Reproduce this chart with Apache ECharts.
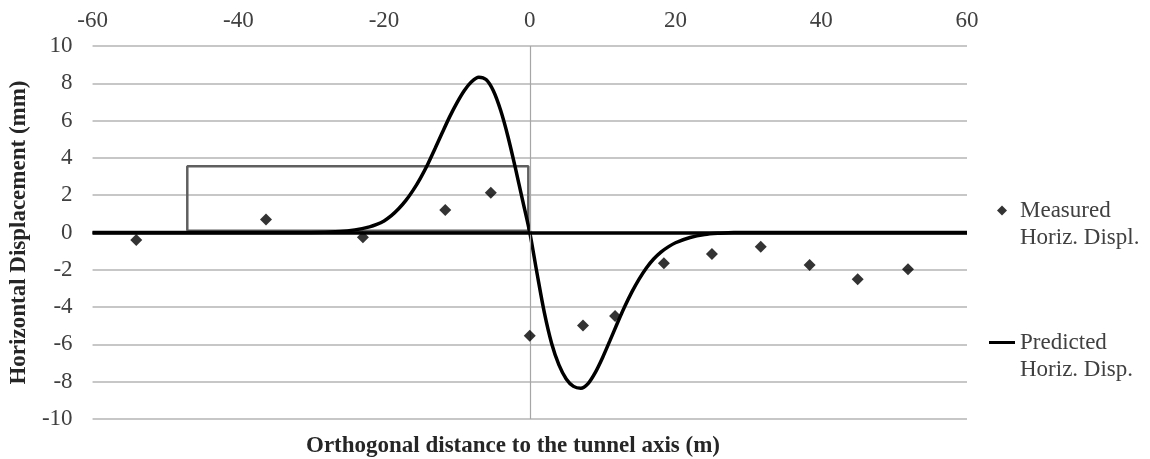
<!DOCTYPE html>
<html>
<head>
<meta charset="utf-8">
<style>
  html, body { margin: 0; padding: 0; background: #fff; }
  #chart { width: 1150px; height: 459px; }
</style>
<script src="https://cdn.jsdelivr.net/npm/echarts@6/dist/echarts.min.js"></script>
</head>
<body>
<div id="chart"></div>
<script>
// measured points
const measuredX = [-54, -36.2, -22.9, -11.6, -5.35, 0, 7.3, 11.7, 18.4, 25.0, 31.7, 38.4, 45.0, 51.9];
const measuredY = [-0.4, 0.7, -0.26, 1.2, 2.13, -5.53, -4.98, -4.48, -1.65, -1.15, -0.76, -1.74, -2.51, -1.97];

// predicted curve, sampled by eye
const predictedX = [-60, -40, -30, -26, -24, -22, -21, -20, -19, -18, -17, -16, -15, -14, -13, -12, -11, -10,
  -9, -8, -7, -6, -5, -4, -3, -2, -1, 0,
  1, 2, 3, 4, 5, 6, 7, 8, 9, 10, 11, 12, 13, 14, 15, 16, 17, 18, 19, 20, 22, 24, 26, 28, 40, 60];
const predictedY = [0, 0, 0, 0.05, 0.14, 0.3, 0.43, 0.62, 0.9, 1.27, 1.72, 2.27, 2.92, 3.66, 4.5, 5.36, 6.2, 6.95,
  7.6, 8.08, 8.33, 8.2, 7.6, 6.55, 5.15, 3.5, 1.75, 0,
  -2.2, -4.3, -5.95, -7.1, -7.85, -8.25, -8.35, -8.1, -7.5, -6.7, -5.8, -4.88, -4.0, -3.2, -2.5, -1.9, -1.42, -1.05, -0.77, -0.55, -0.27, -0.11, -0.04, 0, 0, 0];

// grey box drawn on the chart
const boxX = [-47, -47, -0.2, -0.2, -47];
const boxY = [0.1, 3.55, 3.55, 0.1, 0.1];

const seriesNames = ['Measured\nHoriz. Displ.', 'Predicted\nHoriz. Disp.'];

const FONT = '"Liberation Serif", "DejaVu Serif", serif';

const chart = echarts.init(document.getElementById('chart'));

const zip = (xs, ys) => xs.map((x, i) => [x, ys[i]]);

chart.setOption({
  animation: false,
  backgroundColor: '#fff',
  textStyle: { fontFamily: FONT },
  grid: { left: 88, right: 183, top: 46, bottom: 40 },
  title: {
    text: 'Orthogonal distance to the tunnel axis (m)',
    left: 508,
    top: 430,
    textAlign: 'center',
    textStyle: { fontFamily: FONT, fontSize: 23, fontWeight: 'bold', color: '#262626' }
  },
  legend: {
    orient: 'vertical',
    left: 989,
    top: 170,
    padding: 0,
    itemGap: 51,
    itemWidth: 26,
    itemHeight: 10,
    // blank first line so the icon sits beside the first text line
    formatter: name => ' \n' + name,
    textStyle: { fontFamily: FONT, fontSize: 23, color: '#404040', lineHeight: 27 },
    data: [
      { name: seriesNames[0], icon: 'path://M5,0L10,5L5,10L0,5Z' },
      { name: seriesNames[1], icon: 'path://M0,0H26V3H0Z' }
    ]
  },
  xAxis: {
    type: 'value',
    position: 'top',
    min: -60,
    max: 60,
    interval: 20,
    axisLine: { show: false },
    axisTick: { show: false },
    splitLine: { show: false },
    axisLabel: { fontFamily: FONT, fontSize: 23, color: '#404040', margin: 14 }
  },
  yAxis: {
    type: 'value',
    min: -10,
    max: 10,
    interval: 2,
    name: 'Horizontal Displacement (mm)',
    nameLocation: 'middle',
    nameGap: 56,
    nameTextStyle: { fontFamily: FONT, fontSize: 23, fontWeight: 'bold', color: '#262626' },
    axisLine: { show: false },
    axisTick: { show: false },
    splitLine: { lineStyle: { color: '#b4b4b4', width: 1.5 } },
    axisLabel: { fontFamily: FONT, fontSize: 23, color: '#404040', margin: 20 }
  },
  series: [
    {
      name: 'box',
      type: 'line',
      data: zip(boxX, boxY),
      symbol: 'none',
      silent: true,
      z: 3,
      lineStyle: { color: '#5f5f5f', width: 2.5 },
      markLine: {
        silent: true,
        symbol: 'none',
        label: { show: false },
        data: [
          { xAxis: 0, lineStyle: { color: '#a6a6a6', width: 1.2, type: 'solid' } },
          { yAxis: 0, lineStyle: { color: '#000', width: 3.5, type: 'solid' } }
        ]
      }
    },
    {
      name: seriesNames[1],
      type: 'line',
      data: zip(predictedX, predictedY),
      smooth: 0.3,
      symbol: 'none',
      z: 4,
      lineStyle: { color: '#000', width: 3.5 },
      itemStyle: { color: '#000' }
    },
    {
      name: seriesNames[0],
      type: 'scatter',
      data: zip(measuredX, measuredY),
      symbol: 'diamond',
      symbolSize: 12,
      z: 5,
      itemStyle: { color: '#000' }
    }
  ]
});
</script>
</body>
</html>
